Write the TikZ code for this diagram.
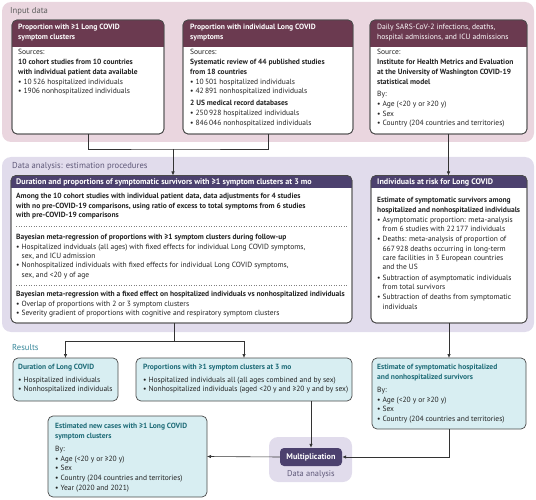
\documentclass[tikz,border=0pt]{standalone}
\usepackage{fontspec}
\setmainfont{PT Sans}
\usetikzlibrary{arrows.meta}
\definecolor{pinkbg}{HTML}{EAD6DF}
\definecolor{maroon}{HTML}{6B3A50}
\definecolor{lavbg}{HTML}{E1DCEC}
\definecolor{purp}{HTML}{4C416E}
\definecolor{cyanbg}{HTML}{D8EEF2}
\definecolor{tealtx}{HTML}{1C6A76}
\definecolor{teallab}{HTML}{37879A}
\definecolor{linec}{HTML}{333333}
\definecolor{bordc}{HTML}{4A4A4A}
\definecolor{graylab}{HTML}{5E5E5E}
\definecolor{purplab}{HTML}{5E5878}
\definecolor{bodytx}{HTML}{222222}
\tikzset{
  wbox/.style={fill=white, draw=bordc, line width=0.7pt, rounded corners=5pt},
  cbox/.style={fill=cyanbg, draw=bordc, line width=0.7pt, rounded corners=5pt},
  txt/.style={anchor=north west, align=left, inner sep=0pt, text=bodytx, font=\fontsize{7.5}{9.4}\selectfont},
  txtA/.style={txt, font=\fontsize{7.5}{9.7}\selectfont},
  htxt/.style={txt, text=white, font=\fontsize{7.6}{9.7}\selectfont\bfseries},
  ttl/.style={txt, font=\fontsize{7.5}{9.7}\selectfont},
  plab/.style={anchor=north west, inner sep=0pt, font=\fontsize{8.6}{10}\selectfont},
  conn/.style={draw=linec, line width=0.6pt},
  arr/.style={conn, -{Latex[length=4pt,width=3.4pt]}},
  multnode/.style={fill=purp, rounded corners=4pt, text=white, inner sep=0pt,
     minimum width=62pt, minimum height=18pt, font=\fontsize{8.2}{9}\selectfont\bfseries},
}
\newcommand\mkbox[6]{\node[#6, minimum width={(#4-#2)*1pt}, minimum height={(#5-#3)*1pt}, inner sep=0pt, outer sep=0pt] (#1) at ({(#2+#4)/2},{(#3+#5)/2}) {};}
\newcommand\mkhead[3]{%
  \begin{scope}
    \clip[rounded corners=5pt] (#1.south west) rectangle (#1.north east);
    \fill[#3] (#1.north west) rectangle ([yshift=-#2pt]#1.north east);
  \end{scope}
  \draw[bordc, line width=0.7pt, rounded corners=5pt] (#1.south west) rectangle (#1.north east);}
\newcommand\tb[1]{\textbf{#1}}
\newcommand\bu{•~}
\newcommand\ind{\phantom{•~}}
\begin{document}
\begin{tikzpicture}[x=1pt,y=-1pt]
\useasboundingbox (0,0) rectangle (536,500);
% panels
\fill[pinkbg, rounded corners=9pt] (2,2) rectangle (534,142);
\fill[lavbg, rounded corners=9pt] (2,157) rectangle (534,332);
\fill[lavbg, rounded corners=9pt] (269,437) rectangle (352,482);
\node[plab, text=graylab] (lin) at (10,6.6) {\strut Input data};
\node[plab, text=purplab] (lda) at (12,161.6) {\strut Data analysis: estimation procedures};
\node[plab, text=teallab] (lres) at (12,343.6) {\strut Results};
% boxes
\mkbox{b1}{12}{20}{164}{134}{wbox}
\mkbox{b2}{183}{20}{353}{134}{wbox}
\mkbox{b3}{370}{20}{527}{134}{wbox}
\mkbox{m1}{11}{175.5}{352}{323}{wbox}
\mkbox{r1}{371}{175.5}{527}{323}{wbox}
\mkbox{dur}{13}{358}{118}{401}{cbox}
\mkbox{prop}{136}{358}{352}{401}{cbox}
\mkbox{est}{372}{358}{526}{429}{cbox}
\mkbox{new}{48}{416}{207}{497}{cbox}
\mkhead{b1}{27}{maroon}
\mkhead{b2}{27}{maroon}
\mkhead{b3}{27}{maroon}
\mkhead{m1}{12.5}{purp}
\mkhead{r1}{12.5}{purp}
% input texts
\node[htxt] (h1) at (18,22.9) {\strut Proportion with ≥1 Long COVID\\symptom clusters};
\node[txtA] (t1) at (18,48) {\strut Sources:\\\tb{10 cohort studies from 10 countries}\\\tb{with individual patient data available}\\\bu 10\,526 hospitalized individuals\\\bu 1906 nonhospitalized individuals};
\node[htxt] (h2) at (190,22.9) {\strut Proportion with individual Long COVID\\symptoms};
\node[txtA] (t2) at (190,48) {\strut Sources:\\\tb{Systematic review of 44 published studies}\\\tb{from 18 countries}\\\bu 10\,501 hospitalized individuals\\\bu 42\,891 nonhospitalized individuals\\[2.3pt]\tb{2 US medical record databases}\\\bu 250\,928 hospitalized individuals\\\bu 846\,046 nonhospitalized individuals};
\node[htxt, font=\fontsize{7.6}{9.7}\selectfont\mdseries] (h3) at (377,22.9) {\strut Daily SARS-CoV-2 infections, deaths,\\hospital admissions, and ICU admissions};
\node[txtA] (t3) at (377,48) {\strut Source:\\\tb{Institute for Health Metrics and Evaluation}\\\tb{at the University of Washington COVID-19}\\\tb{statistical model}\\[3pt]By:\\\bu Age (<20 y or ≥20 y)\\\bu Sex\\\bu Country (204 countries and territories)};
% analysis texts
\node[htxt, font=\fontsize{8.1}{9.7}\selectfont\bfseries] (hm) at (16,177.6) {\strut Duration and proportions of symptomatic survivors with ≥1 symptom clusters at 3 mo};
\node[txt] (tm1) at (16,192) {\strut\tb{Among the 10 cohort studies with individual patient data, data adjustments for 4 studies}\\\tb{with no pre-COVID-19 comparisons, using ratio of excess to total symptoms from 6 studies}\\\tb{with pre-COVID-19 comparisons}};
\draw[gray, dotted, line width=0.5pt] (16,226) -- (347,226);
\node[txt] (tm2) at (16,233) {\strut\tb{Bayesian meta-regression of proportions with ≥1 symptom clusters during follow-up}\\\bu Hospitalized indviduals (all ages) with fixed effects for individual Long COVID symptoms,\\\ind sex, and ICU admission\\\bu Nonhospitalized individuals with fixed effects for individual Long COVID symptoms,\\\ind sex, and <20 y of age};
\draw[gray, dotted, line width=0.5pt] (16,285) -- (347,285);
\node[txt] (tm3) at (16,290) {\strut\tb{Bayesian meta-regression with a fixed effect on hospitalized individuals vs nonhospitalized individuals}\\\bu Overlap of proportions with 2 or 3 symptom clusters\\\bu Severity gradient of proportions with cognitive and respiratory symptom clusters};
\node[htxt, font=\fontsize{8.1}{9.7}\selectfont\bfseries] (hr) at (377,177.6) {\strut Individuals at risk for Long COVID};
\node[txt, font=\fontsize{7.5}{9.3}\selectfont] (tr) at (377,196) {\strut\tb{Estimate of symptomatic survivors among}\\\tb{hospitalized and nonhospitalized individuals}\\[1pt]\bu Asymptomatic proportion: meta-analysis\\\ind from 6 studies with 22\,177 individuals\\[1pt]\bu Deaths: meta-analysis of proportion of\\\ind 667\,928 deaths occurring in long-term\\\ind care facilities in 3 European countries\\\ind and the US\\[1pt]\bu Subtraction of asymptomatic individuals\\\ind from total survivors\\[1pt]\bu Subtraction of deaths from symptomatic\\\ind individuals};
% results texts
\node[ttl] (td) at (18,363) {\strut\textcolor{tealtx}{\tb{Duration of Long COVID}}\\[2.4pt]\bu Hospitalized individuals\\\bu Nonhospitalized individuals};
\node[ttl] (tp) at (143,363) {\strut\textcolor{tealtx}{\tb{Proportions with ≥1 symptom clusters at 3 mo}}\\[2.4pt]\bu Hospitalized individuals all (all ages combined and by sex)\\\bu Nonhospitalized individuals (aged <20 y and ≥20 y and by sex)};
\node[ttl] (te) at (377,363) {\strut\textcolor{tealtx}{\tb{Estimate of symptomatic hospitalized}}\\\textcolor{tealtx}{\tb{and nonhospitalized survivors}}\\[3pt]By:\\\bu Age (<20 y or ≥20 y)\\\bu Sex\\\bu Country (204 countries and territories)};
\node[ttl] (tn) at (55,422) {\strut\textcolor{tealtx}{\tb{Estimated new cases with ≥1 Long COVID}}\\\textcolor{tealtx}{\tb{symptom clusters}}\\[3pt]By:\\\bu Age (<20 y or ≥20 y)\\\bu Sex\\\bu Country (204 countries and territories)\\\bu Year (2020 and 2021)};
% multiplication
\node[multnode] (mult) at (311,457) {Multiplication};
\node[inner sep=0pt, text=purplab, font=\fontsize{8.4}{9}\selectfont] (lmda) at (311,474) {Data analysis};
% connectors
\coordinate (jin) at (173,149);
\coordinate (jres) at (174,341);
\draw[conn] (b1.south) |- (jin) -| (b2.south);
\draw[arr] (jin) -- (jin |- m1.north);
\draw[arr] (b3.south) -- (b3.south |- r1.north);
\draw[conn] (jres |- m1.south) -- (jres);
\draw[arr] (jres) -| (dur.north);
\draw[arr] (jres) -| (prop.north);
\draw[arr] (r1.south) -- (est.north);
\draw[arr] (prop.south -| mult.north) -- (mult.north);
\draw[arr] (est.south) |- (mult.east);
\draw[arr] (mult.west) -- (new.east);
\end{tikzpicture}
\end{document}
